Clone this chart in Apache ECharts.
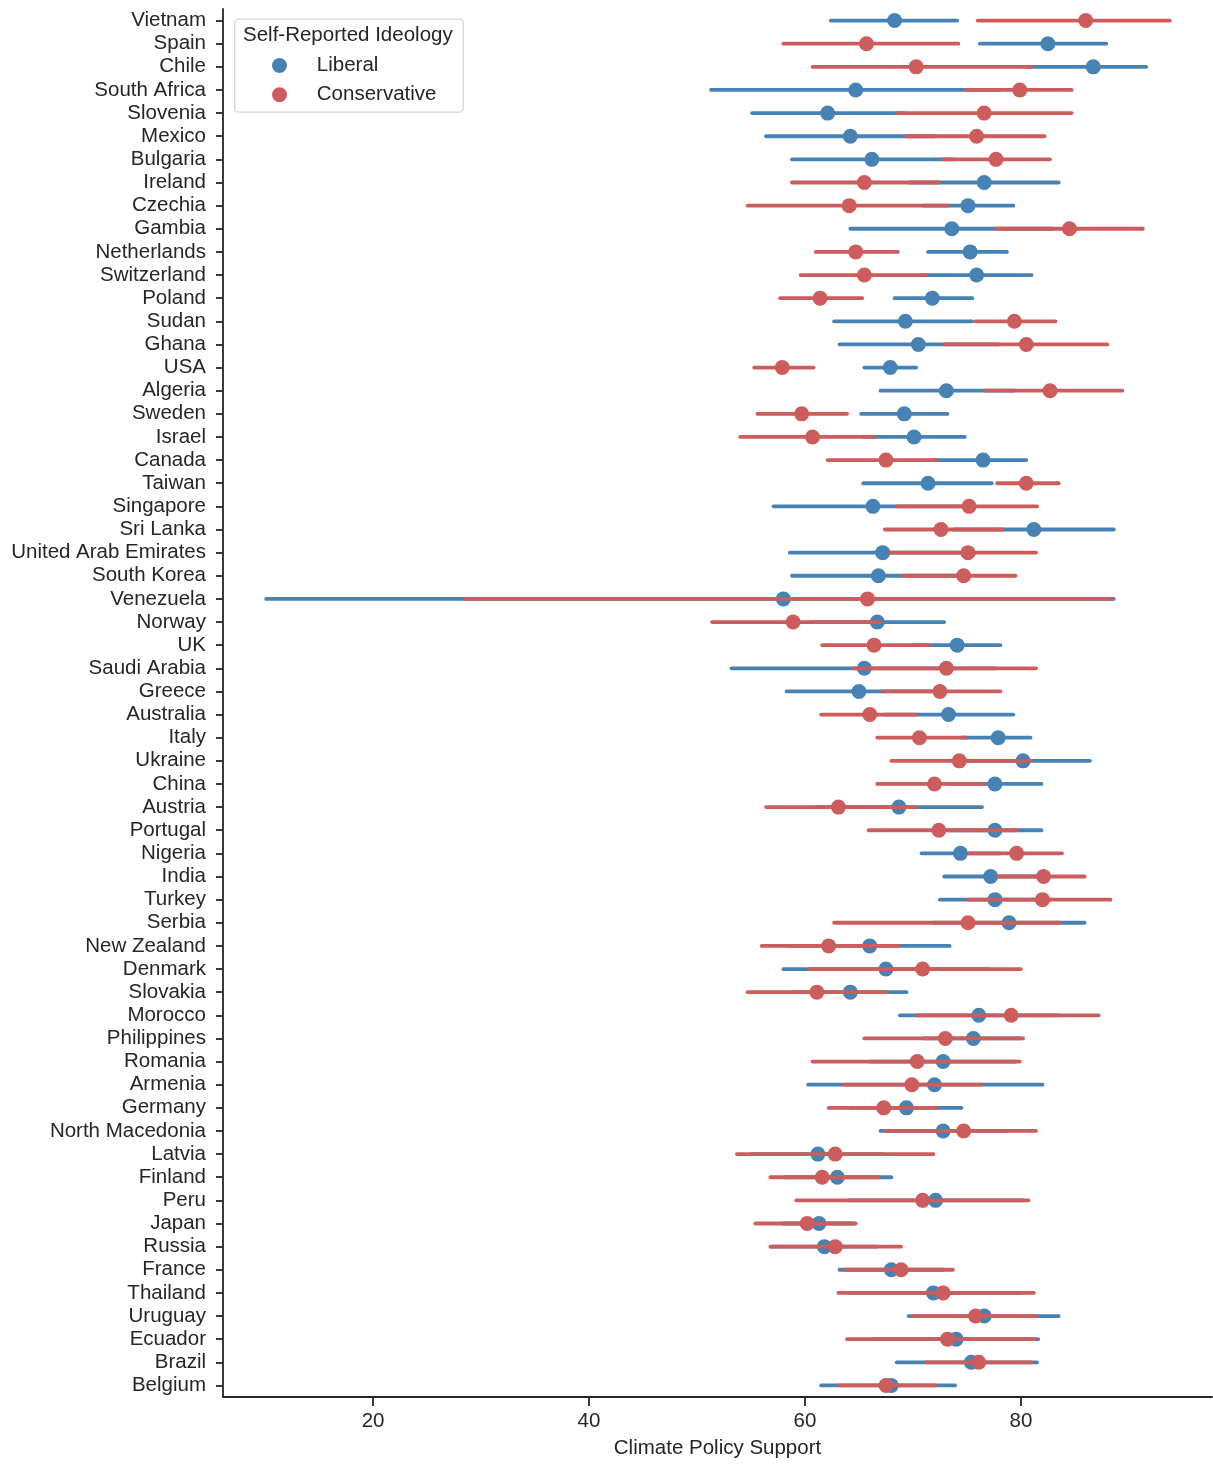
<!DOCTYPE html>
<html>
<head>
<meta charset="utf-8">
<script src="https://cdn.jsdelivr.net/npm/echarts@6/dist/echarts.min.js"></script>
<style>
  html, body { margin: 0; padding: 0; background: #fff; }
  #chart { width: 1213px; height: 1464px; }
</style>
</head>
<body>
<div id="chart"></div>
<script>
// Countries, top to bottom
const countries = [
  'Vietnam', 'Spain', 'Chile', 'South Africa', 'Slovenia', 'Mexico', 'Bulgaria', 'Ireland',
  'Czechia', 'Gambia', 'Netherlands', 'Switzerland', 'Poland', 'Sudan', 'Ghana', 'USA',
  'Algeria', 'Sweden', 'Israel', 'Canada', 'Taiwan', 'Singapore', 'Sri Lanka',
  'United Arab Emirates', 'South Korea', 'Venezuela', 'Norway', 'UK', 'Saudi Arabia',
  'Greece', 'Australia', 'Italy', 'Ukraine', 'China', 'Austria', 'Portugal', 'Nigeria',
  'India', 'Turkey', 'Serbia', 'New Zealand', 'Denmark', 'Slovakia', 'Morocco',
  'Philippines', 'Romania', 'Armenia', 'Germany', 'North Macedonia', 'Latvia', 'Finland',
  'Peru', 'Japan', 'Russia', 'France', 'Thailand', 'Uruguay', 'Ecuador', 'Brazil', 'Belgium'
];

// Liberal respondents: mean support and 95% interval
const liberalMean = [
  68.3, 82.5, 86.7, 64.7, 62.1, 64.2, 66.2, 76.6, 75.1, 73.6,
  75.3, 75.9, 71.8, 69.3, 70.5, 67.9, 73.1, 69.2, 70.1, 76.5,
  71.4, 66.3, 81.2, 67.2, 66.8, 58.0, 66.7, 74.1, 65.5, 65.0,
  73.3, 77.9, 80.2, 77.6, 68.7, 77.6, 74.4, 77.2, 77.6, 78.9,
  66.0, 67.5, 64.2, 76.1, 75.6, 72.8, 72.0, 69.4, 72.8, 61.2,
  63.0, 72.1, 61.3, 61.8, 68.0, 71.9, 76.6, 74.0, 75.4, 68.0
];
const liberalLow = [
  62.4, 76.2, 80.5, 51.3, 55.1, 56.4, 58.8, 69.7, 71.0, 64.2,
  71.4, 70.8, 68.3, 62.7, 63.2, 65.5, 67.0, 65.2, 65.4, 72.0,
  65.4, 57.1, 73.8, 58.6, 58.8, 10.1, 60.5, 70.1, 53.2, 58.3,
  67.4, 74.5, 74.0, 73.3, 61.0, 73.3, 70.8, 72.9, 72.5, 71.9,
  58.5, 58.0, 58.9, 68.8, 71.0, 66.0, 60.3, 64.2, 67.0, 55.0,
  58.1, 64.0, 58.0, 56.9, 63.2, 64.0, 69.6, 66.3, 68.5, 61.5
];
const liberalHigh = [
  74.1, 87.9, 91.6, 78.1, 69.2, 72.0, 73.7, 83.5, 79.3, 82.9,
  78.7, 81.0, 75.5, 75.5, 77.9, 70.3, 79.3, 73.2, 74.8, 80.5,
  77.3, 75.5, 88.6, 75.8, 74.7, 88.6, 72.9, 78.1, 77.7, 71.7,
  79.3, 80.9, 86.4, 81.9, 76.4, 81.9, 78.1, 81.6, 82.7, 85.9,
  73.4, 77.0, 69.4, 83.5, 80.0, 79.5, 82.0, 74.5, 78.7, 67.3,
  68.0, 80.2, 64.5, 66.6, 72.8, 80.0, 83.5, 81.6, 81.5, 73.9
];

// Conservative respondents: mean support and 95% interval
const conservativeMean = [
  86.0, 65.7, 70.3, 79.9, 76.6, 75.9, 77.7, 65.5, 64.1, 84.5,
  64.7, 65.5, 61.4, 79.4, 80.5, 57.9, 82.7, 59.7, 60.7, 67.5,
  80.5, 75.2, 72.6, 75.1, 74.7, 65.8, 58.9, 66.4, 73.1, 72.5,
  66.0, 70.6, 74.3, 72.0, 63.1, 72.4, 79.6, 82.1, 82.0, 75.1,
  62.2, 70.9, 61.1, 79.1, 73.0, 70.4, 69.9, 67.3, 74.7, 62.8,
  61.6, 70.9, 60.2, 62.8, 68.9, 72.8, 75.8, 73.2, 76.1, 67.5
];
const conservativeLow = [
  76.0, 58.0, 60.7, 74.9, 68.5, 69.4, 72.8, 58.8, 54.7, 77.7,
  61.0, 59.6, 57.7, 75.8, 72.9, 55.3, 76.7, 55.6, 54.0, 62.1,
  77.8, 68.5, 67.4, 67.9, 69.1, 28.5, 51.4, 61.6, 64.5, 67.2,
  61.5, 66.7, 68.0, 66.7, 56.4, 65.9, 75.2, 77.9, 75.1, 62.7,
  56.0, 60.4, 54.7, 70.4, 65.5, 60.7, 63.6, 62.2, 67.5, 53.7,
  56.8, 59.2, 55.4, 56.8, 63.7, 63.1, 70.0, 63.9, 71.2, 63.2
];
const conservativeHigh = [
  93.8, 74.2, 81.0, 84.7, 84.7, 82.2, 82.7, 72.4, 73.2, 91.3,
  68.6, 71.2, 65.3, 83.2, 88.0, 60.8, 89.4, 63.9, 66.4, 72.2,
  83.5, 81.5, 78.3, 81.4, 79.5, 88.4, 67.0, 71.5, 81.4, 78.1,
  70.3, 74.8, 80.9, 76.6, 70.3, 79.6, 83.8, 85.9, 88.3, 83.6,
  68.7, 80.0, 67.5, 87.2, 80.2, 79.9, 76.3, 72.2, 81.4, 71.9,
  66.8, 80.7, 64.7, 68.9, 73.7, 81.2, 81.4, 81.3, 81.0, 72.1
];

// Tick values shown on the x axis
const xTicks = [20, 40, 60, 80];

const BLUE = '#4682b4';
const RED = '#cd5c5c';
const INK = '#262626';
const FONT = '"Liberation Sans", Arial, sans-serif';
const FS = 20.5;

function intervalData(low, high) {
  return low.map((lo, i) => [lo, high[i], i]);
}
function pointData(mean) {
  return mean.map((m, i) => [m, i]);
}
function intervalSeries(name, low, high, color, z) {
  return {
    name: name,
    type: 'custom',
    z: z,
    silent: true,
    encode: { x: [0, 1], y: 2 },
    data: intervalData(low, high),
    renderItem: function (params, api) {
      const a = api.coord([api.value(0), api.value(2)]);
      const b = api.coord([api.value(1), api.value(2)]);
      return {
        type: 'line',
        shape: { x1: a[0], y1: a[1], x2: b[0], y2: b[1] },
        style: { stroke: color, lineWidth: 3.8, lineCap: 'round' }
      };
    }
  };
}
function pointSeries(name, mean, color, z) {
  return {
    name: name,
    type: 'scatter',
    z: z,
    symbol: 'circle',
    symbolSize: 15,
    itemStyle: { color: color, opacity: 1 },
    emphasis: { disabled: true },
    data: pointData(mean)
  };
}

const chart = echarts.init(document.getElementById('chart'), null, { renderer: 'canvas' });

chart.setOption({
  animation: false,
  backgroundColor: '#ffffff',
  textStyle: { fontFamily: FONT },
  grid: { left: 223, right: 1, top: 9, bottom: 64, containLabel: false },
  xAxis: {
    type: 'value',
    min: 6.1,
    max: 97.7,
    name: 'Climate Policy Support',
    nameLocation: 'middle',
    nameGap: 41,
    nameTextStyle: { fontSize: FS, color: INK, fontFamily: FONT },
    axisLine: { show: true, onZero: false, lineStyle: { color: INK, width: 1.8 } },
    axisTick: { show: true, length: 9, customValues: xTicks, lineStyle: { color: INK, width: 1.8 } },
    axisLabel: { customValues: xTicks, fontSize: FS, color: INK, margin: 14, fontFamily: FONT },
    splitLine: { show: false }
  },
  yAxis: {
    type: 'category',
    data: countries,
    inverse: true,
    axisLine: { show: true, onZero: false, lineStyle: { color: INK, width: 1.8 } },
    axisTick: { show: true, length: 7, alignWithLabel: true, lineStyle: { color: INK, width: 1.8 } },
    axisLabel: { fontSize: FS, color: INK, margin: 17, fontFamily: FONT, interval: 0 },
    splitLine: { show: false }
  },
  legend: {
    data: ['Liberal', 'Conservative'],
    orient: 'vertical',
    left: 272,
    top: 55,
    padding: 0,
    itemGap: 8.3,
    itemWidth: 64.6,
    itemHeight: 15,
    icon: 'circle',
    selectedMode: false,
    z: 10,
    textStyle: { fontSize: FS, color: INK, fontFamily: FONT, lineHeight: 20 }
  },
  graphic: [
    {
      type: 'rect',
      z: 5,
      left: 234,
      top: 18.5,
      shape: { width: 228.5, height: 93, r: 4 },
      style: { fill: 'rgba(255,255,255,0.85)', stroke: '#d4d4d4', lineWidth: 1.3 }
    },
    {
      type: 'text',
      z: 11,
      left: 243,
      top: 25,
      style: { text: 'Self-Reported Ideology', fontSize: FS, fill: INK, fontFamily: FONT }
    }
  ],
  series: [
    intervalSeries('Liberal interval', liberalLow, liberalHigh, BLUE, 2),
    pointSeries('Liberal', liberalMean, BLUE, 3),
    intervalSeries('Conservative interval', conservativeLow, conservativeHigh, RED, 4),
    pointSeries('Conservative', conservativeMean, RED, 5)
  ]
});
</script>
</body>
</html>
